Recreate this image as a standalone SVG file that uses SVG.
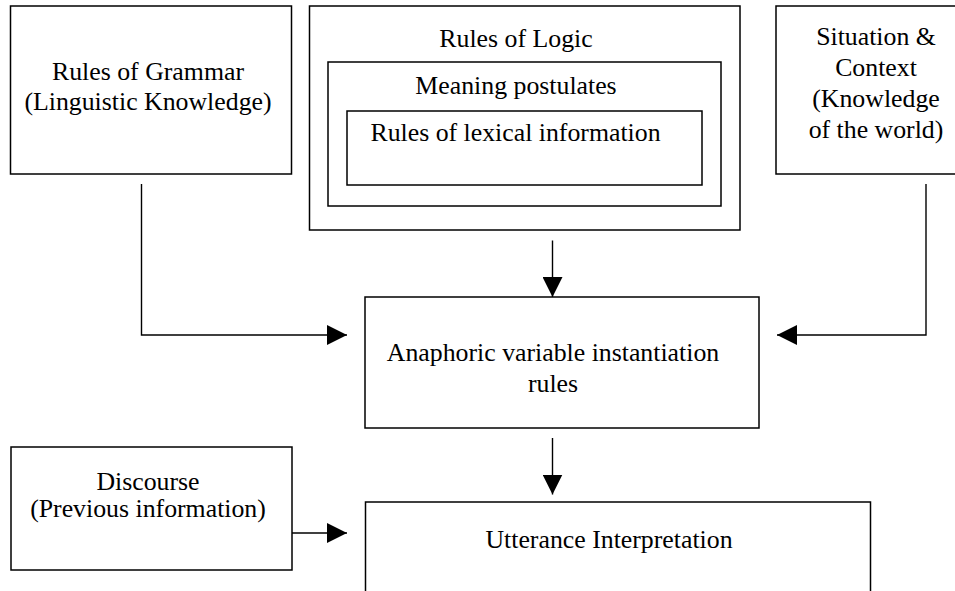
<svg xmlns="http://www.w3.org/2000/svg" width="955" height="591" viewBox="0 0 955 591">
<style>
.box{fill:none;stroke:#000;stroke-width:1.5}
.t{font-family:"Liberation Serif","Times New Roman",serif;font-size:25.8px;fill:#000;text-anchor:middle}
.c{fill:none;stroke:#000;stroke-width:1.4}
</style>
<defs>
<marker id="ah" markerUnits="userSpaceOnUse" markerWidth="20" markerHeight="20" refX="20" refY="10" orient="auto" viewBox="0 0 20 20">
<path d="M0,0 L20,10 L0,20 z" fill="#000"/>
</marker>
</defs>
<rect width="955" height="591" fill="#fff"/>
<g id="grammar">
<rect class="box" x="10.5" y="6" width="281" height="168"/>
<text class="t" x="148" y="80">Rules of Grammar</text>
<text class="t" x="148" y="110">(Linguistic Knowledge)</text>
</g>
<g id="logic">
<rect class="box" x="309.5" y="6" width="430.5" height="224"/>
<text class="t" x="516" y="47">Rules of Logic</text>
</g>
<g id="meaning">
<rect class="box" x="328" y="62" width="393" height="144"/>
<text class="t" x="516" y="94">Meaning postulates</text>
</g>
<g id="lexical">
<rect class="box" x="347" y="111" width="355" height="74"/>
<text class="t" x="515.5" y="141">Rules of lexical information</text>
</g>
<g id="situation">
<rect class="box" x="776" y="6" width="200" height="168"/>
<text class="t" x="876" y="45">Situation &amp;</text>
<text class="t" x="876" y="76">Context</text>
<text class="t" x="876" y="107">(Knowledge</text>
<text class="t" x="876" y="138">of the world)</text>
</g>
<g id="anaphoric">
<rect class="box" x="365" y="297" width="394" height="131"/>
<text class="t" x="553" y="361">Anaphoric variable instantiation</text>
<text class="t" x="553" y="392">rules</text>
</g>
<g id="discourse">
<rect class="box" x="11" y="447" width="281" height="123"/>
<text class="t" x="148" y="490">Discourse</text>
<text class="t" x="148" y="517">(Previous information)</text>
</g>
<g id="utterance">
<rect class="box" x="365.5" y="502" width="505" height="110"/>
<text class="t" x="609" y="548">Utterance Interpretation</text>
</g>
<g id="connectors">
<path class="c" d="M141.5,184 V335 H347" marker-end="url(#ah)"/>
<path class="c" d="M926,184 V335 H777" marker-end="url(#ah)"/>
<path class="c" d="M552.5,240.5 V297" marker-end="url(#ah)"/>
<path class="c" d="M552.5,438 V494.5" marker-end="url(#ah)"/>
<path class="c" d="M292,533 H347" marker-end="url(#ah)"/>
</g>
</svg>
